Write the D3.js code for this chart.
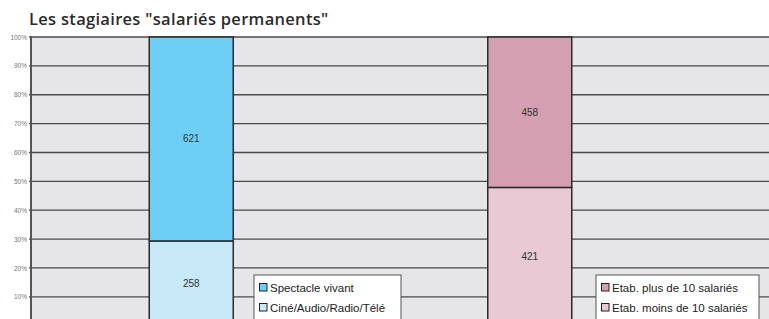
<!DOCTYPE html>
<html><head><meta charset="utf-8">
<script src="https://cdn.jsdelivr.net/npm/d3@7"></script>
<style>body{margin:0;background:#fff}svg{display:block}</style>
</head><body>
<script>
const title = 'Les stagiaires "salariés permanents"';
const categories = ["Domaine", "Taille"];
const bottomValues = [258, 421];
const topValues = [621, 458];
const bottomNames = ["Ciné/Audio/Radio/Télé", "Etab. moins de 10 salariés"];
const topNames = ["Spectacle vivant", "Etab. plus de 10 salariés"];
const bottomColors = ["#c8e9f8", "#e8c9d4"];
const topColors = ["#6dcff6", "#d4a0b1"];
const yTicks = [0.1,0.2,0.3,0.4,0.5,0.6,0.7,0.8,0.9,1];

const W = 769, H = 319;
const svg = d3.select("body").append("svg").attr("width", W).attr("height", H);

const mLeft = 31, mRight = 769, mTop = 37, mBottom = 325.7;
const y = d3.scaleLinear().domain([0,1]).range([mBottom, mTop]);
const x = d3.scaleBand().domain(categories).range([22, 699]).padding(0);
const barW = 84;

svg.append("text").attr("x", 29).attr("y", 25).text(title)
  .attr("font-family", "'Open Sans', sans-serif").attr("font-weight", 600)
  .attr("font-size", 16.5).attr("letter-spacing", 0.3).attr("fill", "#2b2b2b");

svg.append("rect").attr("x", mLeft).attr("y", mTop).attr("width", mRight-mLeft).attr("height", mBottom-mTop)
  .attr("fill", "#e6e6e8");

// grid
svg.append("g").selectAll("line").data(yTicks).join("line")
  .attr("x1", mLeft-2).attr("x2", mRight).attr("y1", d=>y(d)).attr("y2", d=>y(d))
  .attr("stroke", "#4a4a4a").attr("stroke-width", 1.3);

// axis
const axis = d3.axisLeft(y).tickValues(yTicks).tickFormat(d3.format(".0%")).tickSize(0).tickPadding(4);
const ag = svg.append("g").attr("transform", `translate(${mLeft},0)`).call(axis);
ag.select(".domain").remove();
ag.selectAll("text").attr("font-family", "Arial, 'Liberation Sans', sans-serif").attr("font-size", 6.5).attr("fill", "#777");
svg.append("line").attr("x1", mLeft).attr("x2", mLeft).attr("y1", mTop-1).attr("y2", H)
  .attr("stroke", "#555").attr("stroke-width", 2);

// bars
categories.forEach((c, i) => {
  const tot = bottomValues[i] + topValues[i];
  const cx = x(c) + x.bandwidth()/2;
  const segs = [
    {v0: 0, v1: bottomValues[i]/tot, val: bottomValues[i], col: bottomColors[i]},
    {v0: bottomValues[i]/tot, v1: 1, val: topValues[i], col: topColors[i]}
  ];
  segs.forEach(s => {
    svg.append("rect").attr("x", cx - barW/2).attr("y", y(s.v1)).attr("width", barW)
      .attr("height", y(s.v0) - y(s.v1)).attr("fill", s.col)
      .attr("stroke", "#2a2a2a").attr("stroke-width", 1.5);
    svg.append("text").attr("x", cx).attr("y", (y(s.v0)+y(s.v1))/2 + 3.5)
      .attr("text-anchor", "middle").attr("font-family", "Arial, 'Liberation Sans', sans-serif")
      .attr("font-size", 10).attr("fill", "#333").text(s.val);
  });
});

// legends
const legendX = [254, 596], legendW = [147, 163];
categories.forEach((c, i) => {
  const g = svg.append("g").attr("transform", `translate(${legendX[i]},275)`);
  g.append("rect").attr("x", 0).attr("y", 0).attr("width", legendW[i]).attr("height", 60)
    .attr("fill", "#fff").attr("stroke", "#555").attr("stroke-width", 1);
  const items = [{n: topNames[i], c: topColors[i]}, {n: bottomNames[i], c: bottomColors[i]}];
  items.forEach((it, j) => {
    g.append("rect").attr("x", 5.5).attr("y", 8.5 + j*20).attr("width", 7.5).attr("height", 7.5)
      .attr("fill", it.c).attr("stroke", "#222").attr("stroke-width", 1);
    g.append("text").attr("x", 16).attr("y", 17 + j*20).text(it.n)
      .attr("font-family", "Arial, 'Liberation Sans', sans-serif").attr("font-size", 11.5).attr("fill", "#222");
  });
});
</script>
</body></html>
